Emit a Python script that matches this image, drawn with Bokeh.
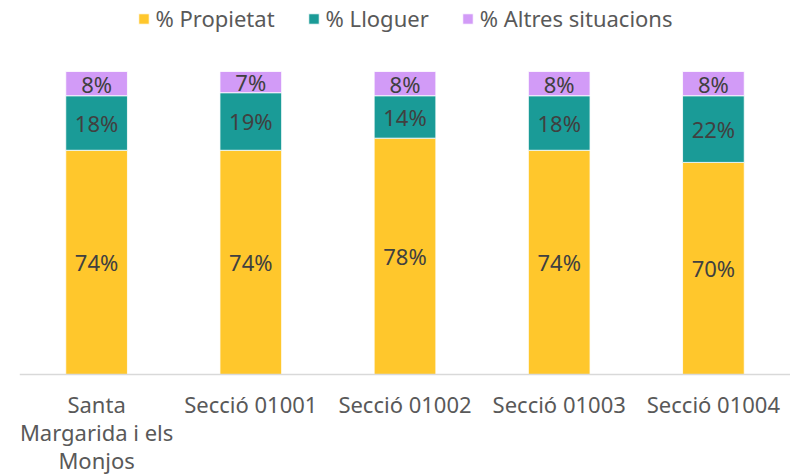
from bokeh.plotting import figure
from bokeh.models import ColumnDataSource, FactorRange, Range1d, Legend, LegendItem, Span
from bokeh.core.properties import value
from bokeh.embed import file_html
from bokeh.resources import INLINE

categories = ["Santa Margarida i els Monjos", "Secció 01001", "Secció 01002", "Secció 01003", "Secció 01004"]
category_label_lines = [["Santa", "Margarida i els", "Monjos"], ["Secció 01001"], ["Secció 01002"],
                        ["Secció 01003"], ["Secció 01004"]]
propietat = [74, 74, 78, 74, 70]
lloguer = [18, 19, 14, 18, 22]
altres = [8, 7, 8, 8, 8]
series_names = ["% Propietat", "% Lloguer", "% Altres situacions"]
colors = ["#FFC72C", "#1A9B97", "#D29BF7"]

FONT = "Noto Sans"
FS = "22px"

p_frac = [v / 100 for v in propietat]
l_frac = [v / 100 for v in lloguer]
a_frac = [v / 100 for v in altres]

src = ColumnDataSource(dict(cat=categories, p=p_frac, l=l_frac, a=a_frac))

p = figure(x_range=FactorRange(*categories), y_range=Range1d(-0.3333, 1.2343),
           width=790, height=475, output_backend="svg", toolbar_location=None,
           min_border_left=19, min_border_right=0, min_border_top=0, min_border_bottom=0)
p.outline_line_color = None
p.grid.visible = False
p.xaxis.visible = False
p.yaxis.visible = False
p.background_fill_color = None
p.border_fill_color = "white"

rs = p.vbar_stack(["p", "l", "a"], x="cat", width=0.4, source=src, color=colors,
                  line_color="white", line_width=0.8)

# axis line
p.add_layout(Span(location=0, dimension="width", line_color="#D9D9D9", line_width=1.5))

# data labels
lx, ly, lt = [], [], []
for i, c in enumerate(categories):
    base = 0.0
    for vals in (propietat, lloguer, altres):
        v = vals[i] / 100
        lx.append(c)
        ly.append(base + v / 2)
        lt.append(f"{vals[i]}%")
        base += v
lsrc = ColumnDataSource(dict(x=lx, y=ly, t=lt))
p.text(x="x", y="y", text="t", source=lsrc, text_align="center", text_baseline="middle",
       text_font=value(FONT), text_font_size=FS, text_color="#404040")

# category labels (below axis line)
cx, cy, ct, co = [], [], [], []
for c, lines in zip(categories, category_label_lines):
    for k, line in enumerate(lines):
        cx.append(c)
        cy.append(0)
        ct.append(line)
        co.append(29 + 28 * k)
csrc = ColumnDataSource(dict(x=cx, y=cy, t=ct, o=co))
p.text(x="x", y="y", text="t", y_offset="o", source=csrc, text_align="center",
       text_baseline="alphabetic", text_font=value(FONT), text_font_size=FS, text_color="#595959")

legend = Legend(items=[LegendItem(label=n, renderers=[r]) for n, r in zip(series_names, rs)],
                location="top_center", orientation="horizontal",
                glyph_width=13, glyph_height=13, label_standoff=6, spacing=32,
                padding=0, margin=3, border_line_color=None, background_fill_alpha=0,
                label_text_font=FONT, label_text_font_size=FS, label_text_color="#595959")
p.add_layout(legend, "center")

open("out.html", "w").write(file_html(p, INLINE))
